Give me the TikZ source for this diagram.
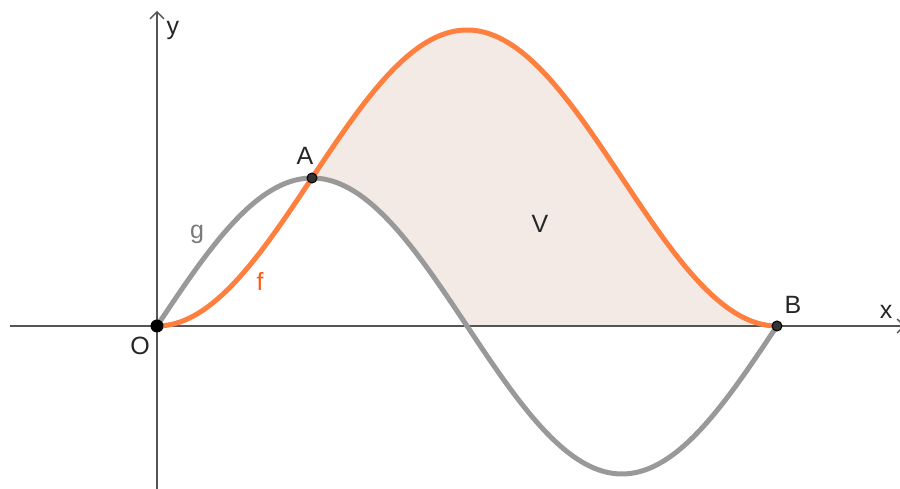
\documentclass[tikz,border=0pt]{standalone}
\usepackage{fontspec}
\setmainfont{Liberation Sans}
\usetikzlibrary{arrows.meta}
\definecolor{forange}{HTML}{FF7F3F}
\definecolor{flabel}{HTML}{FF5A14}
\definecolor{ggray}{HTML}{999999}
\definecolor{glabel}{HTML}{7A7A7A}
\definecolor{vfill}{HTML}{F3E9E5}
\definecolor{axcol}{HTML}{555555}
\tikzset{
  axis/.style={axcol, line width=1.3pt, -{Straight Barb[length=7pt,width=14pt,line width=1.3pt]}},
  curvef/.style={forange, line width=5pt, line cap=round},
  curveg/.style={ggray, line width=5pt, line cap=round},
  lbl/.style={font=\fontsize{25}{27}\selectfont, inner sep=0pt, text=black!85},
  pt/.style={circle, fill=black!80, draw=black, line width=1pt, minimum size=10pt, inner sep=0pt},
}
\begin{document}
\begin{tikzpicture}[x=1pt,y=1pt]
\useasboundingbox (-157,-163) rectangle (743,326);
\def\sx{98.676}
\def\sy{148}
% region V
\fill[vfill] plot[domain=pi/2:2*pi, samples=120] ({\x*\sx},{\sy*(1-cos(\x r))})
  -- (pi*\sx,0) -- plot[domain=pi:pi/2, samples=40] ({\x*\sx},{\sy*sin(\x r)}) -- cycle;
% axes
\coordinate (xl) at (-147,0);
\coordinate (xr) at (748,0);
\coordinate (yb) at (0,-163);
\coordinate (yt) at (0,315);
\draw[axis] (xl) -- (xr);
\draw[axis] (yb) -- (yt);
% curves
\draw[curveg] plot[domain=0:2*pi, samples=160] ({\x*\sx},{\sy*sin(\x r)});
\draw[curvef] plot[domain=0:2*pi, samples=160] ({\x*\sx},{\sy*(1-cos(\x r))});
% points
\node[circle, fill=black, minimum size=13pt, inner sep=0pt] (O) at (0,0) {};
\node[pt] (A) at ({pi/2*\sx},\sy) {};
\node[pt] (B) at ({2*pi*\sx},0) {};
% labels
\node[lbl] (Ol) at (-17,-20) {O};
\node[lbl] (Al) at (148,170) {A};
\node[lbl] (Bl) at (636,21) {B};
\node[lbl] (xlab) at (729,14) {x};
\node[lbl] (ylab) at (16,296) {y};
\node[lbl, text=glabel] (gl) at (40,92) {g};
\node[lbl, text=flabel] (fl) at (103,45) {f};
\node[lbl] (Vl) at (383,102) {V};
\end{tikzpicture}
\end{document}
